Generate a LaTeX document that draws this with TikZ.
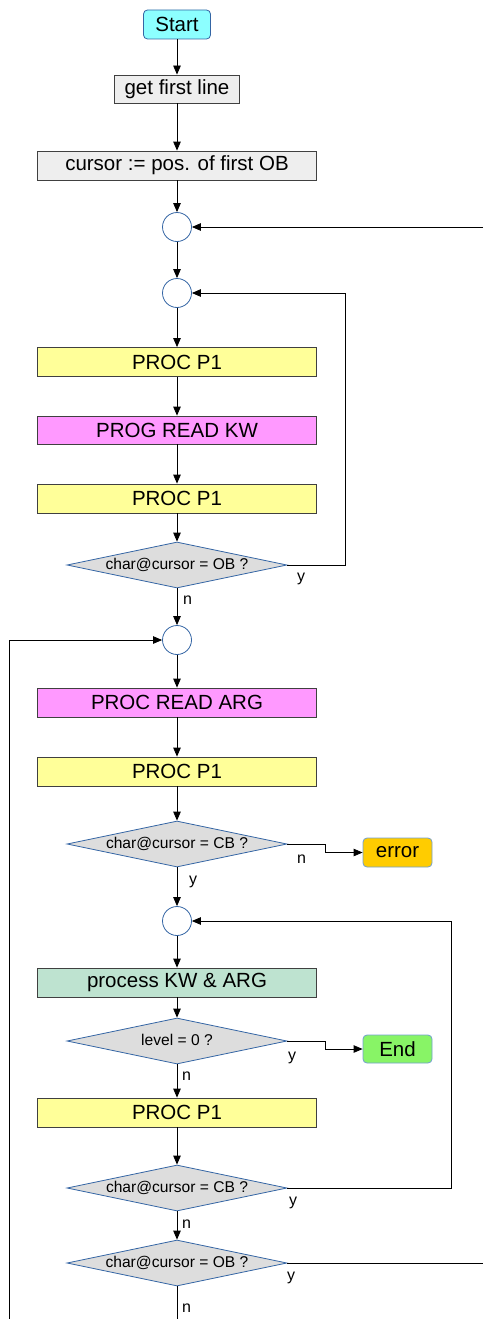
\documentclass[tikz,border=0pt]{standalone}
\usepackage{fontspec}
\setmainfont{Liberation Sans}
\usetikzlibrary{arrows.meta,shapes.geometric}
\definecolor{startfill}{HTML}{8CFFFF}
\definecolor{grayfill}{HTML}{EEEEEE}
\definecolor{yelfill}{HTML}{FFFF99}
\definecolor{magfill}{HTML}{FF99FF}
\definecolor{greenfill}{HTML}{BEE3D0}
\definecolor{endfill}{HTML}{88F466}
\definecolor{errfill}{HTML}{FFCC00}
\definecolor{diafill}{HTML}{DDDDDD}
\definecolor{blueline}{HTML}{3465A4}
\definecolor{termline}{HTML}{729FCF}
\definecolor{boxline}{HTML}{404040}
\newcommand\boxfnt{\fontsize{20.5}{24}\selectfont}
\newcommand\diafnt{\fontsize{15.6}{18}\selectfont}
\newcommand\lblfnt{\fontsize{16}{18}\selectfont}
\begin{document}
\begin{tikzpicture}[x=1pt,y=-1pt,
  boxnode/.style={draw=boxline, line width=0.8pt, minimum width=279pt, minimum height=29pt, inner sep=0pt, font=\boxfnt},
  termnode/.style={draw=termline, line width=0.8pt, rounded corners=4pt, minimum height=29pt, inner sep=0pt, font=\boxfnt},
  dianode/.style={diamond, aspect=4.78, draw=blueline, fill=diafill, line width=0.8pt, inner sep=0pt, minimum width=220pt, minimum height=46pt, text height=11pt, text depth=3pt, font=\diafnt},
  circnode/.style={circle, draw=blueline, fill=white, line width=0.8pt, minimum size=29pt, inner sep=0pt},
  lbl/.style={anchor=base west, inner sep=0pt, font=\lblfnt},
  conn/.style={draw=black, line width=0.8pt},
  arr/.style={conn, -{Triangle[length=9pt,width=7.5pt]}}
]
\useasboundingbox (0,0) rectangle (483,1319);

% nodes
\node[termnode, draw=blueline, fill=startfill, minimum width=67pt] (start) at (177,24.5) {Start};
\node[boxnode, fill=grayfill, minimum width=125pt, minimum height=28pt] (getline) at (177,89) {get first line};
\node[boxnode, fill=grayfill] (cursor) at (177,165.5) {cursor := pos. of first OB};
\node[circnode] (c1) at (177,227) {};
\node[circnode] (c2) at (177,293) {};
\node[boxnode, fill=yelfill] (p1a) at (177,362) {PROC P1};
\node[boxnode, fill=magfill, minimum height=28pt] (kw) at (177,430) {PROG READ KW};
\node[boxnode, fill=yelfill] (p1b) at (177,498.5) {PROC P1};
\node[dianode] (d1) at (177,565) {char@cursor = OB ?};
\node[circnode] (c3) at (177,640) {};
\node[boxnode, fill=magfill] (arg) at (177,702.5) {PROC READ ARG};
\node[boxnode, fill=yelfill] (p1c) at (177,771.5) {PROC P1};
\node[dianode] (d2) at (177,844) {char@cursor = CB ?};
\node[termnode, fill=errfill, minimum width=69pt] (err) at (397.5,852.5) {error};
\node[circnode] (c4) at (177,921) {};
\node[boxnode, fill=greenfill] (proc) at (177,982.5) {process KW \& ARG};
\node[dianode] (d3) at (177,1041) {level = 0 ?};
\node[termnode, fill=endfill, minimum width=69pt, minimum height=28pt] (fin) at (397.5,1049) {End};
\node[boxnode, fill=yelfill] (p1d) at (177,1112.5) {PROC P1};
\node[dianode] (d4) at (177,1188) {char@cursor = CB ?};
\node[dianode] (d5) at (177,1263) {char@cursor = OB ?};

% free ends
\coordinate (rin) at (483,227);
\coordinate (rout) at (483,1263);
\coordinate (bout) at (177,1319);
\coordinate (lout) at (9,1319);

% connectors
\draw[arr] (start) -- (getline);
\draw[arr] (getline) -- (cursor);
\draw[arr] (cursor) -- (c1);
\draw[arr] (rin) -- (c1);
\draw[arr] (c1) -- (c2);
\draw[arr] (c2) -- (p1a);
\draw[arr] (p1a) -- (kw);
\draw[arr] (kw) -- (p1b);
\draw[arr] (p1b) -- (d1);
\draw[arr] (d1.east) -- ++(58,0) |- (c2.east);
\draw[arr] (d1.south) -- (c3.north);
\draw[arr] (lout) |- (c3.west);
\draw[arr] (c3) -- (arg);
\draw[arr] (arg) -- (p1c);
\draw[arr] (p1c) -- (d2.north);
\draw[arr] (d2.east) -- ++(38,0) |- (err.west);
\draw[arr] (d2.south) -- (c4.north);
\draw[arr] (c4) -- (proc);
\draw[arr] (proc) -- (d3.north);
\draw[arr] (d3.east) -- ++(38,0) |- (fin.west);
\draw[arr] (d3.south) -- (p1d.north);
\draw[arr] (p1d) -- (d4.north);
\draw[arr] (d4.east) -- ++(164,0) |- (c4.east);
\draw[arr] (d4.south) -- (d5.north);
\draw[conn] (d5.east) -- (rout);
\draw[conn] (d5.south) -- (bout);

% labels
\node[lbl] (ly1) at (297,581) {y};
\node[lbl] (ln1) at (183,604) {n};
\node[lbl] (ln2) at (297,863) {n};
\node[lbl] (ly2) at (189,884) {y};
\node[lbl] (ly3) at (288,1060) {y};
\node[lbl] (ln3) at (182,1080) {n};
\node[lbl] (ly4) at (289,1205) {y};
\node[lbl] (ln4) at (182,1228) {n};
\node[lbl] (ly5) at (287,1280) {y};
\node[lbl] (ln5) at (182,1312) {n};
\end{tikzpicture}
\end{document}
